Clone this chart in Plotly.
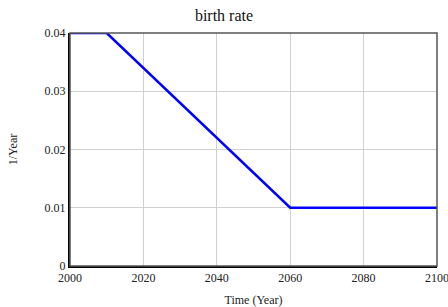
import plotly.graph_objects as go

years = [2000, 2010, 2060, 2100]
birth_rate = [0.04, 0.04, 0.01, 0.01]
x_ticks = [2000, 2020, 2040, 2060, 2080, 2100]
y_ticks = [0, 0.01, 0.02, 0.03, 0.04]
y_tick_labels = ["0", "0.01", "0.02", "0.03", "0.04"]

font = "Liberation Serif"

fig = go.Figure()
fig.add_trace(go.Scatter(x=years, y=birth_rate, mode="lines",
                         line=dict(color="#0000ff", width=2.5), cliponaxis=False,
                         showlegend=False))

fig.update_layout(
    width=448, height=307,
    margin=dict(l=70, r=11, t=33, b=41, autoexpand=False),
    paper_bgcolor="white", plot_bgcolor="white",
    font=dict(family=font, size=12, color="#222"),
    title=dict(text="birth rate", x=0.5, xanchor="center", y=0.95, yanchor="middle",
               font=dict(family=font, size=16, color="#111")),
    shapes=[dict(type="rect", xref="paper", yref="paper", x0=0, x1=1, y0=0, y1=1,
                 line=dict(color="#555", width=1.5), layer="above")],
)
fig.update_xaxes(range=[2000, 2100], tickvals=x_ticks, ticks="", showgrid=True,
                 gridcolor="#d0d0d0", gridwidth=1, zeroline=False, automargin=False,
                 showline=True, linecolor="black", linewidth=2, ticklabeloverflow="allow",
                 tickfont=dict(family=font, size=12, color="#222"),
                 title=dict(text="Time (Year)", font=dict(family=font, size=12, color="#222"), standoff=14))
fig.update_yaxes(range=[0, 0.04], tickvals=y_ticks, ticktext=y_tick_labels, ticks="",
                 showgrid=True, gridcolor="#d0d0d0", gridwidth=1, zeroline=False, automargin=False,
                 showline=True, linecolor="black", linewidth=2, ticklabeloverflow="allow",
                 tickfont=dict(family=font, size=12, color="#222"),
                 title=dict(text="1/Year", font=dict(family=font, size=12, color="#222"), standoff=24))

fig.write_html("out.html", config={"displayModeBar": False},
               post_script="document.body.style.margin='0';document.body.style.overflow='hidden';")
